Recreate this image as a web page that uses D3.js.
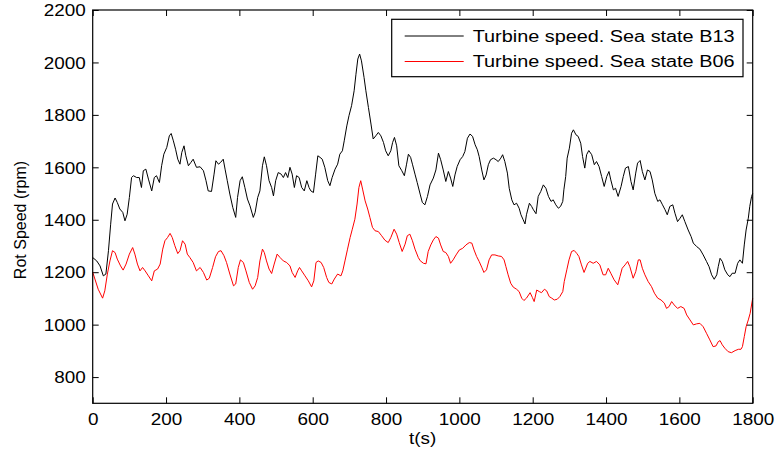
<!DOCTYPE html>
<html>
<head>
<meta charset="utf-8">
<script src="https://cdn.jsdelivr.net/npm/d3@7"></script>
<style>
  body { margin: 0; background: #fff; }
  svg { display: block; font-family: "Liberation Sans", Arial, sans-serif; }
</style>
</head>
<body>
<div class="chart"></div>
<script>
var W = 776, H = 454;
var margin = {top: 10, right: 23.3, bottom: 50.7, left: 92.7};
var w = W - margin.left - margin.right;
var h = H - margin.top - margin.bottom;

// sea state B13 (black)
var tB13 = [0,11,20,29,36,43,49,54,61,67,74,82,88,94,100,106,111,120,127,133,138,145,152,161,168,174,182,188,194,202,209,214,220,226,232,238,243,249,254,261,268,274,283,293,302,309,315,324,331,336,343,349,356,361,367,374,382,390,395,402,408,415,422,429,438,
  443,450,456,463,468,474,481,488,493,499,506,514,520,526,532,538,544,550,556,563,570,577,584,590,595,602,608,614,620,626,633,641,647,653,661,668,674,681,686,693,699,706,713,718,723,728,733,740,745,752,759,765,772,779,786,793,799,806,813,818,823,829,835,843,850,856,861,867,872,879,885,893,899,
  906,913,920,929,936,943,949,956,963,970,976,982,988,994,1002,1009,1015,1022,1029,1036,1043,1049,1054,1061,1067,1073,1079,1085,1093,1100,1106,1113,1118,1124,1131,1136,1143,1149,1156,1163,1168,1174,1179,1183,1191,1197,1202,1209,1215,1222,1229,1236,1243,1250,1256,1263,1270,1276,1282,1285,1290,1294,1300,1306,1311,1318,1324,1331,1336,
  1342,1347,1353,1361,1368,1374,1381,1388,1395,1402,1408,1413,1420,1426,1433,1441,1447,1453,1461,1468,1474,1481,1486,1493,1499,1506,1513,1520,1526,1533,1541,1547,1554,1561,1567,1574,1582,1588,1595,1602,1608,1615,1624,1632,1638,1647,1656,1665,1674,1681,1688,1695,1702,1706,1711,1717,1724,1732,1738,1744,1752,1759,1765,1772,1777,1782,1788,1792,1797,1800];
var rpmB13 = [1256,1243,1224,1186,1193,1282,1383,1460,1483,1466,1441,1428,1396,1421,1485,1561,1568,1561,1561,1523,1587,1593,1555,1510,1561,1568,1542,1606,1650,1676,1720,1729,1701,1669,1631,1612,1657,1682,1644,1606,1619,1631,1600,1602,1587,1549,1510,1508,1574,1625,1612,1619,1631,1593,1549,1498,1447,1409,1485,1549,1564,1523,1479,1453,1409,
  1428,1485,1510,1606,1640,1606,1549,1523,1491,1549,1580,1574,1561,1580,1561,1600,1574,1523,1568,1561,1523,1510,1549,1523,1510,1504,1574,1644,1638,1631,1600,1549,1530,1561,1593,1612,1650,1663,1701,1758,1797,1835,1892,1955,2013,2032,2006,1943,1892,1828,1765,1708,1720,1733,1720,1695,1663,1644,1663,1695,1714,1682,1606,1587,1568,1612,1650,1638,1612,1574,1542,1498,1466,
  1457,1489,1533,1559,1590,1654,1629,1590,1546,1584,1559,1527,1571,1603,1629,1641,1660,1711,1727,1718,1686,1667,1641,1590,1552,1571,1610,1629,1635,1629,1622,1635,1648,1622,1578,1520,1476,1457,1463,1444,1419,1400,1384,1419,1463,1451,1438,1423,1489,1508,1533,1520,1489,1470,1476,1457,1444,1451,1470,1514,1565,1635,1673,1730,1743,1724,1718,1692,1641,
  1597,1648,1664,1648,1610,1622,1603,1565,1527,1565,1584,1552,1514,1520,1489,1527,1565,1597,1603,1546,1514,1578,1616,1626,1584,1552,1590,1584,1552,1501,1470,1476,1457,1438,1419,1451,1457,1425,1393,1406,1419,1393,1361,1336,1311,1298,1288,1266,1241,1221,1190,1173,1190,1221,1253,1241,1209,1190,1183,1196,1196,1234,1247,1234,1304,1361,1406,1451,1489,1501];

// sea state B06 (red)
var tB06 = [0,6,15,27,33,40,47,54,61,67,76,83,91,100,109,115,122,129,136,143,152,161,168,177,184,191,197,204,211,217,224,232,238,245,252,258,265,274,283,293,302,311,318,327,335,343,350,358,365,374,384,390,397,403,411,418,427,436,
  443,450,456,463,468,474,481,488,495,503,511,520,529,538,544,552,559,564,570,579,588,597,603,609,615,623,630,638,644,652,659,668,677,682,688,695,702,708,715,721,726,731,736,743,750,756,763,770,779,788,797,806,813,822,829,836,844,852,858,865,872,879,888,
  893,902,909,915,922,929,936,943,949,956,963,970,976,983,991,1000,1009,1018,1027,1034,1040,1047,1054,1061,1067,1074,1081,1088,1097,1106,1115,1122,1127,1133,1140,1147,1156,1163,1170,1176,1183,1193,1199,1204,1211,1218,1224,1232,1238,1245,1252,1259,1267,1274,1282,1286,1293,1299,1306,1313,1320,1326,1333,1340,
  1350,1356,1365,1374,1383,1392,1399,1406,1413,1422,1432,1438,1444,1452,1459,1465,1474,1481,1488,1493,1499,1506,1515,1524,1532,1541,1550,1559,1565,1572,1579,1586,1595,1604,1613,1620,1629,1638,1647,1656,1665,1674,1683,1692,1700,1706,1711,1717,1724,1733,1742,1752,1761,1768,1772,1777,1782,1788,1793,1800];
var rpmB06 = [1200,1174,1135,1101,1129,1193,1243,1282,1275,1250,1224,1208,1231,1269,1294,1269,1231,1205,1218,1205,1186,1167,1205,1212,1231,1288,1320,1332,1348,1332,1301,1271,1282,1320,1307,1269,1256,1237,1205,1218,1199,1170,1177,1218,1259,1279,1282,1263,1237,1193,1148,1155,1218,1247,1237,1205,1161,1135,
  1148,1180,1243,1288,1275,1243,1212,1195,1231,1269,1256,1243,1237,1224,1199,1180,1205,1218,1205,1186,1167,1144,1167,1237,1243,1237,1218,1180,1161,1155,1174,1193,1186,1205,1243,1288,1332,1364,1402,1460,1523,1549,1517,1472,1441,1409,1371,1358,1355,1339,1322,1313,1332,1364,1345,1313,1279,1307,1339,1345,1320,1288,1256,
  1244,1234,1232,1279,1304,1323,1336,1330,1304,1279,1275,1260,1234,1247,1266,1285,1291,1304,1313,1311,1285,1260,1241,1219,1199,1209,1247,1266,1266,1262,1260,1247,1221,1190,1158,1143,1135,1126,1101,1092,1101,1122,1104,1088,1132,1126,1122,1135,1129,1107,1101,1094,1097,1107,1126,1164,1209,1247,1279,1283,1272,1260,1228,1199,
  1234,1241,1234,1241,1228,1190,1190,1215,1196,1171,1152,1183,1215,1228,1241,1221,1177,1202,1247,1247,1215,1190,1164,1145,1120,1101,1094,1082,1062,1069,1088,1075,1062,1069,1062,1037,1018,999,1003,1005,992,967,942,916,919,935,939,923,910,897,893,901,906,906,916,954,992,1018,1043,1101];

var xTicks = [0,200,400,600,800,1000,1200,1400,1600,1800];
var yTicks = [800,1000,1200,1400,1600,1800,2000,2200];
var legendLabels = ["Turbine speed. Sea state B13", "Turbine speed. Sea state B06"];
var colors = ["#000000", "#ff0000"];

var svg = d3.select(".chart").append("svg")
    .attr("width", W)
    .attr("height", H);

var g = svg.append("g")
    .attr("transform", "translate(" + margin.left + "," + margin.top + ")");

var x = d3.scaleLinear().domain([0, 1800]).range([0, w]);
var y = d3.scaleLinear().domain([700, 2200]).range([h, 0]);

// the picture is a bit wider than tall text would be: stretch text sideways
function stretch(sel, k) {
  sel.each(function() {
    var len = this.getComputedTextLength();
    d3.select(this).attr("textLength", len * k).attr("lengthAdjust", "spacingAndGlyphs");
  });
}

function styleAxis(a) {
  a.select(".domain").remove();
  a.selectAll(".tick line").attr("stroke", "#000");
  a.selectAll("text").attr("fill", "#000").style("font-size", "16px");
}

var xAxis = g.append("g")
    .attr("transform", "translate(0," + h + ")")
    .call(d3.axisBottom(x).tickValues(xTicks).tickSize(-6).tickPadding(10).tickFormat(d3.format("d")));
styleAxis(xAxis);
stretch(xAxis.selectAll("text"), 1.18);

var yAxis = g.append("g")
    .call(d3.axisLeft(y).tickValues(yTicks).tickSize(-6).tickPadding(7).tickFormat(d3.format("d")));
styleAxis(yAxis);
yAxis.selectAll("text").attr("dy", "0.36em");
stretch(yAxis.selectAll("text"), 1.18);

var topAxis = g.append("g")
    .call(d3.axisTop(x).tickValues(xTicks).tickSize(-6).tickFormat(""));
styleAxis(topAxis);

var rightAxis = g.append("g")
    .attr("transform", "translate(" + w + ",0)")
    .call(d3.axisRight(y).tickValues(yTicks).tickSize(-6).tickFormat(""));
styleAxis(rightAxis);

var line = d3.line()
    .x(function(d) { return x(d[0]); })
    .y(function(d) { return y(d[1]); });

var series = [d3.zip(tB13, rpmB13), d3.zip(tB06, rpmB06)];

g.selectAll(".series")
    .data(series)
    .enter()
    .append("path")
    .attr("class", "series")
    .attr("d", line)
    .attr("fill", "none")
    .attr("stroke", function(d, i) { return colors[i]; })
    .attr("stroke-width", 1);

// frame
g.append("rect")
    .attr("width", w)
    .attr("height", h)
    .attr("fill", "none")
    .attr("stroke", "#000")
    .attr("stroke-width", 1.2);

// legend
var legend = svg.append("g").attr("transform", "translate(391.7,19.3)");
legend.append("rect")
    .attr("width", 351.3)
    .attr("height", 57.4)
    .attr("fill", "#fff")
    .attr("stroke", "#000")
    .attr("stroke-width", 1.2);

var rows = legend.selectAll(".row")
    .data(legendLabels)
    .enter()
    .append("g")
    .attr("transform", function(d, i) { return "translate(0," + (16.7 + i * 25.5) + ")"; });

rows.append("line")
    .attr("x1", 13).attr("x2", 72)
    .attr("stroke", function(d, i) { return colors[i]; })
    .attr("stroke-width", 1);

var ltext = rows.append("text")
    .attr("x", 81)
    .attr("dy", "0.36em")
    .style("font-size", "16px")
    .text(function(d) { return d; });
stretch(ltext, 1.24);

// axis labels
var xl = svg.append("text")
    .attr("x", margin.left + w / 2)
    .attr("y", 444)
    .attr("text-anchor", "middle")
    .style("font-size", "16px")
    .text("t(s)");
stretch(xl, 1.18);

svg.append("text")
    .attr("transform", "translate(26,220) rotate(-90)")
    .attr("text-anchor", "middle")
    .style("font-size", "16px")
    .text("Rot Speed (rpm)");
</script>
</body>
</html>
